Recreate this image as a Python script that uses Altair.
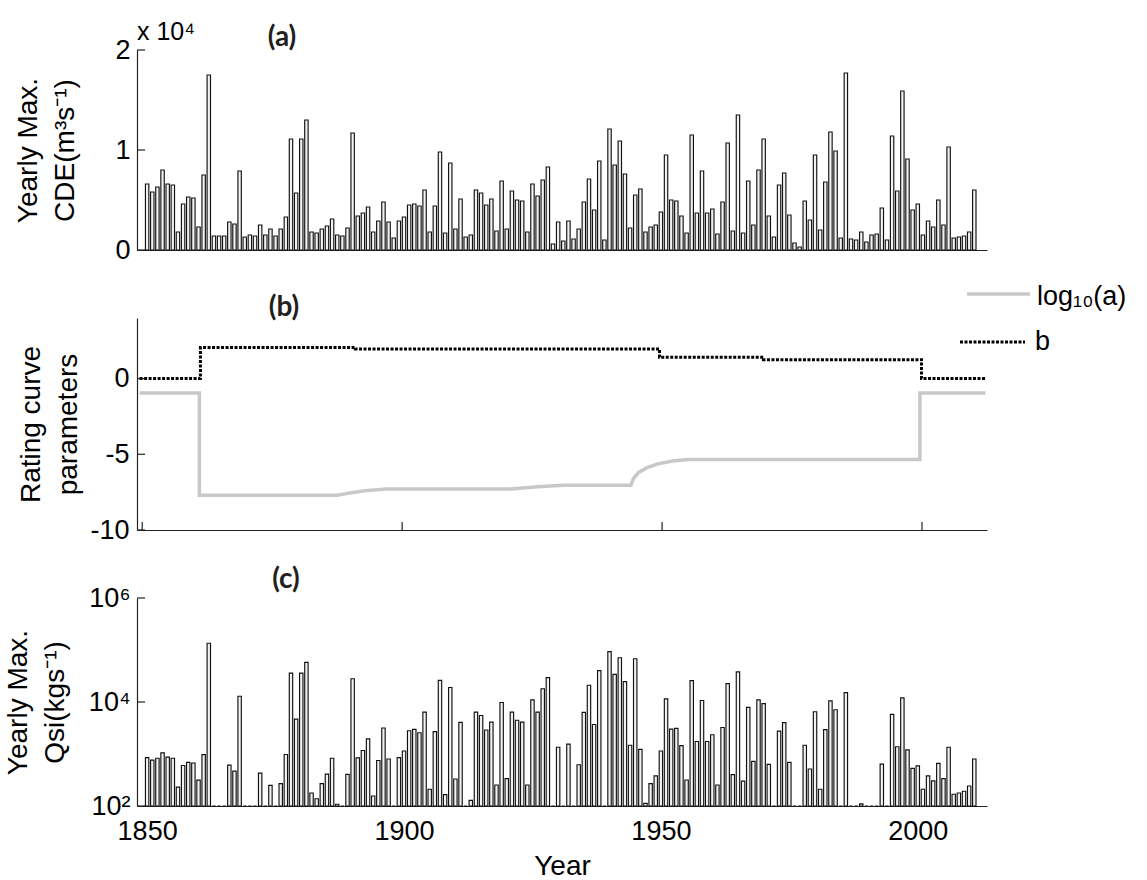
import altair as alt
import pandas as pd

# ---------------- data ----------------
years = list(range(1850, 2012))

# (a) yearly maximum CDE, m3/s
cde = [6600, 5800, 6300, 8000, 6600, 6500, 1800, 4600, 5300, 5200, 2300, 7500, 17500,
       1400, 1400, 1400, 2800, 2600, 7900, 1300, 1500,
       1400, 2500, 1500, 2100, 1400, 2100, 3300, 11100, 5700, 11100,
       13000, 1800, 1700, 2100, 2400, 3100, 1500, 1400, 2200, 11700,
       3400, 3700, 4300, 1800, 2900, 4800, 2800, 1200, 2900, 3300,
       4500, 4600, 4400, 6000, 1800, 4400, 9800, 1700, 8700, 2100,
       5100, 1300, 1500, 6000, 5700, 4500, 5100, 1900, 6900, 2100,
       5900, 5000, 4900, 1800, 6600, 5400, 7000, 8300, 600, 2800,
       900, 2900, 1100, 2100, 4800, 7100, 4000, 8900, 1000, 12100,
       8500, 10900, 7600, 2200, 5500, 6100, 1800, 2300, 2500, 3800,
       9500, 5000, 4900, 3400, 1700, 11500, 3700, 7900, 3700, 4100,
       1600, 4800, 10700, 1900, 13500, 1700, 6900, 2500, 8000, 11100,
       3400, 1300, 6500, 7700, 3500, 700, 300, 4900, 3000, 9500,
       2000, 6800, 11800, 9900, 1200, 17700, 1100, 1000, 1800, 800,
       1500, 1600, 4200, 1000, 11400, 5900, 15900, 9100, 4000, 4600,
       1500, 2900, 2300, 5000, 2500, 10300, 1200, 1300, 1400, 1800, 6000]

# (c) yearly maximum Qsi, kg/s (100 = at or below the axis floor)
qsi = [850, 760, 830, 1050, 870, 830, 230, 600, 690, 670, 315, 970, 135000,
       100, 100, 100, 610, 470, 12900, 100, 100,
       100, 430, 100, 250, 100, 270, 980, 36000, 4700, 36000,
       58000, 178, 138, 270, 410, 830, 108, 100, 405, 28000,
       840, 1170, 1960, 156, 750, 3160, 800, 100, 850, 1140,
       2800, 2980, 2560, 6400, 210, 2700, 26000, 165, 19000, 330,
       4070, 100, 128, 6400, 5500, 2900, 4100, 253, 9800, 335,
       6400, 4460, 4100, 253, 11000, 6400, 18000, 29500, 100, 1350,
       100, 1550, 100, 620, 6300, 21000, 3700, 40000, 100, 93000,
       34000, 71000, 24600, 1470, 68000, 1230, 112, 270, 380, 1140,
       11500, 3000, 3100, 1450, 316, 25700, 1740, 10700, 1740, 2350,
       253, 3230, 22500, 400, 38000, 300, 7900, 720, 11000, 9300,
       630, 100, 2750, 4000, 690, 100, 100, 1470, 515, 6500,
       210, 2950, 10500, 7100, 100, 15100, 100, 100, 110, 100,
       100, 100, 640, 100, 5800, 1380, 12000, 1200, 530, 590,
       210, 380, 305, 660, 335, 1350, 168, 178, 192, 242, 800]

# (b) rating curve parameters
loga_year = [1849.5, 1861.0, 1861.0, 1887.5, 1890.0, 1893.0, 1897.0, 1921.0, 1926.0, 1931.0,
             1944.0, 1944.5, 1945.5, 1947.0, 1949.0, 1952.0, 1955.0, 1999.6, 1999.6, 2012.2]
loga_val = [-0.95, -0.95, -7.7, -7.7, -7.55, -7.4, -7.3, -7.3, -7.15, -7.05,
            -7.05, -6.6, -6.2, -5.9, -5.65, -5.45, -5.35, -5.35, -0.95, -0.95]
b_year = [1849.5, 1861.2, 1861.2, 1891.0, 1891.0, 1949.5, 1949.5, 1969.5, 1969.5, 1999.9, 1999.9, 2012.2]
b_val = [0.0, 0.0, 2.05, 2.05, 1.95, 1.95, 1.4, 1.4, 1.25, 1.25, 0.0, 0.0]

x_ticks = [1850, 1900, 1950, 2000]
a_ticks = [0, 10000, 20000]
b_ticks = [-10, -5, 0]
c_ticks = [100, 10000, 1000000]
legend_names = ["log\u2081\u2080(a)", "b"]
panel_labels = ["(a)", "(b)", "(c)"]
a_title = ["Yearly Max.", "CDE(m\u00b3s\u207b\u00b9)"]
b_title = ["Rating curve", "parameters"]
c_title = ["Yearly Max.", "Qsi(kgs\u207b\u00b9)"]

# ---------------- styling ----------------
W, HA, HB, HC = 850, 200, 212, 208
FONT = "Liberation Sans"
AX = "#222222"
xscale = alt.Scale(domain=[1849, 2012.5], nice=False, zero=False)
df = pd.DataFrame({"year": years, "cde": cde, "qsi": qsi})


def panel_label(text, dx, dy):
    return alt.Chart(pd.DataFrame({"t": [text]})).mark_text(
        font="Lato", fontWeight="bold", fontSize=28, color="#231f20", align="center", baseline="middle"
    ).encode(text="t:N", x=alt.value(dx), y=alt.value(dy))


def y_ticks(vals):
    return alt.Chart(pd.DataFrame({"v": vals})).mark_rule(color=AX, strokeWidth=1.2).encode(
        y=alt.Y("v:Q", axis=None), x=alt.value(0), x2=alt.value(8))


bar_style = dict(width=3.4, fill="#f2f2f2", stroke="#111111", strokeWidth=1.15)

# ---------------- panel (a) ----------------
bars_a = alt.Chart(df).mark_bar(**bar_style).encode(
    x=alt.X("year:Q", scale=xscale,
            axis=alt.Axis(labels=False, ticks=False, title=None, grid=False)),
    y=alt.Y("cde:Q", scale=alt.Scale(domain=[0, 20000], nice=False),
            axis=alt.Axis(values=a_ticks, labelExpr="'' + datum.value / 10000", ticks=False,
                          grid=False, title=a_title, titlePadding=35, labelPadding=7)),
)
x104 = alt.Chart(pd.DataFrame({"t": ["x 10\u2074"]})).mark_text(
    font=FONT, fontSize=25, align="left", baseline="middle", color="black"
).encode(text="t:N", x=alt.value(0), y=alt.value(-18))
panel_a = alt.layer(bars_a, y_ticks(a_ticks), x104, panel_label(panel_labels[0], 145, -12)).resolve_axis(
    x="independent", y="independent").properties(width=W, height=HA)

# ---------------- panel (b) ----------------
la_df = pd.DataFrame({"year": loga_year, "val": loga_val, "i": list(range(len(loga_year)))})
b_df = pd.DataFrame({"year": b_year, "val": b_val, "i": list(range(len(b_year)))})
bscale = alt.Scale(domain=[-10, 4], nice=False)

line_la = alt.Chart(la_df).mark_line(color="#c8c8c8", strokeWidth=3.5).encode(
    x=alt.X("year:Q", scale=xscale,
            axis=alt.Axis(labels=False, ticks=False, title=None, grid=False)),
    y=alt.Y("val:Q", scale=bscale,
            axis=alt.Axis(values=b_ticks, labelExpr="'' + datum.value", ticks=False, grid=False,
                          title=b_title, titlePadding=7, labelPadding=8)),
    order="i:Q",
)
line_b = alt.Chart(b_df).mark_line(color="black", strokeWidth=3, strokeDash=[3, 1.5]).encode(
    x=alt.X("year:Q", scale=xscale, axis=None), y=alt.Y("val:Q", scale=bscale, axis=None), order="i:Q")

x_tick_b = alt.Chart(pd.DataFrame({"t": x_ticks})).mark_rule(color=AX, strokeWidth=1.2).encode(
    x=alt.X("t:Q", axis=None), y=alt.value(HB), y2=alt.value(HB - 8))

leg_la = alt.Chart(pd.DataFrame({"n": [legend_names[0]]})).mark_rule(
    color="#c8c8c8", strokeWidth=3.5).encode(x=alt.value(830), x2=alt.value(893), y=alt.value(-24))
leg_b = alt.Chart(pd.DataFrame({"n": [legend_names[1]]})).mark_rule(
    color="black", strokeWidth=3, strokeDash=[3, 1.5]).encode(x=alt.value(823), x2=alt.value(888), y=alt.value(24))
leg_t1 = alt.Chart(pd.DataFrame({"n": [legend_names[0]]})).mark_text(
    font=FONT, fontSize=27, align="left", baseline="middle", color="black").encode(
    text="n:N", x=alt.value(900), y=alt.value(-21))
leg_t2 = alt.Chart(pd.DataFrame({"n": [legend_names[1]]})).mark_text(
    font=FONT, fontSize=27, align="left", baseline="middle", color="black").encode(
    text="n:N", x=alt.value(898), y=alt.value(24))

panel_b = alt.layer(line_la, line_b, y_ticks(b_ticks), x_tick_b, leg_la, leg_b, leg_t1, leg_t2,
                    panel_label(panel_labels[1], 147, -10)).resolve_axis(
    x="independent", y="independent").properties(width=W, height=HB)

# ---------------- panel (c) ----------------
bars_c = alt.Chart(df).mark_bar(**bar_style).encode(
    x=alt.X("year:Q", scale=xscale,
            axis=alt.Axis(values=x_ticks, format="d", ticks=False, title="Year", grid=False,
                          labelPadding=12, titlePadding=8)),
    y=alt.Y("qsi:Q", scale=alt.Scale(type="log", domain=[100, 1000000], clamp=True, nice=False),
            axis=alt.Axis(values=c_ticks,
                          labelExpr="datum.value < 1000 ? '10\u00b2' : (datum.value < 100000 ? '10\u2074' : '10\u2076')",
                          ticks=False, grid=False, title=c_title, titlePadding=19, labelPadding=7)),
)
panel_c = alt.layer(bars_c, y_ticks(c_ticks), panel_label(panel_labels[2], 149, -18)).resolve_axis(
    x="independent", y="independent").properties(width=W, height=HC)

chart = alt.vconcat(panel_a, panel_b, panel_c, spacing=68, bounds="flush").properties(
    padding={"left": 4, "top": 20, "right": 0, "bottom": 5}, background="white"
).configure_view(stroke=None).configure_axis(
    labelFont=FONT, labelFontSize=27, labelColor="black",
    titleFont=FONT, titleFontSize=28, titleFontWeight="normal", titleColor="black",
    titleLineHeight=37, domainColor=AX, domainWidth=1.2,
)

chart.save("out.html", embed_options={"renderer": "svg", "actions": False})
